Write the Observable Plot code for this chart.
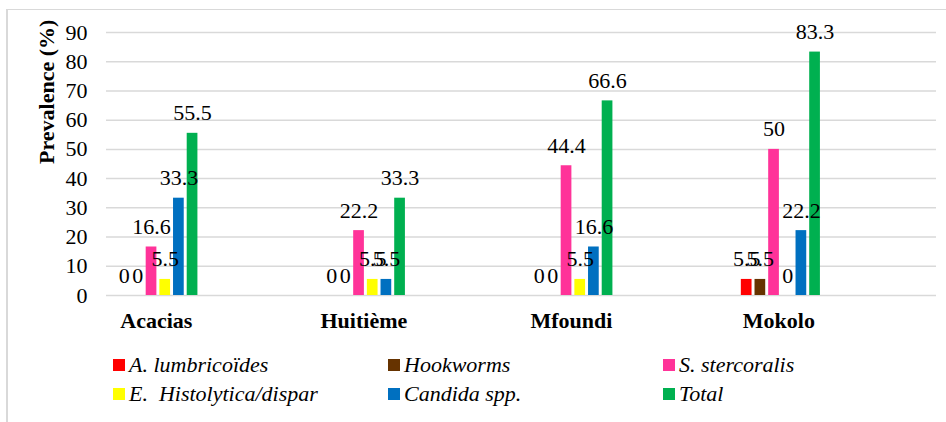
<!DOCTYPE html>
<html>
<head>
<meta charset="utf-8">
<script src="https://cdn.jsdelivr.net/npm/d3@7"></script>
<script src="https://cdn.jsdelivr.net/npm/@observablehq/plot@0.6"></script>
<style>
  body { margin: 0; background: #fff; }
  #wrap { position: relative; width: 946px; height: 422px; overflow: hidden; background: #fff; color: #000; }
  #wrap, #wrap *, #wrap svg text, #wrap svg tspan, #wrap div { font-family: 'Liberation Serif', 'Times New Roman', Tinos, serif !important; }
  #frame { position: absolute; left: 6px; top: 9px; width: 1200px; height: 1200px;
           border-left: 2px solid #d9d9d9; border-top: 1.5px solid #d9d9d9; pointer-events: none; z-index: 3; }
  #legend { position: relative; height: 82px; font-style: italic; font-size: 22px; }
  .item { position: absolute; white-space: pre; line-height: 22px; }
  .sw { position: absolute; width: 12px; height: 12px; }
</style>
</head>
<body>
<div id="wrap">
  <div id="chart"></div>
  <div id="legend"></div>
  <div id="frame"></div>
</div>
<script>
// ---- data ----
const categories = ["Acacias", "Huitième", "Mfoundi", "Mokolo"];
const seriesNames = ["A. lumbricoïdes", "Hookworms", "S. stercoralis", "E.  Histolytica/dispar", "Candida spp.", "Total"];
const seriesColors = ["#FF0000", "#663300", "#FF3399", "#FFFF00", "#0070C0", "#00B050"];
const aLumbricoides = [0, 0, 0, 5.5];
const hookworms = [0, 0, 0, 5.5];
const sStercoralis = [16.6, 22.2, 44.4, 50];
const eHistolytica = [5.5, 5.5, 5.5, 0];
const candida = [33.3, 5.5, 16.6, 22.2];
const total = [55.5, 33.3, 66.6, 83.3];
const yTicks = [0, 10, 20, 30, 40, 50, 60, 70, 80, 90];
const yLabel = "Prevalence (%)";

const seriesValues = [aLumbricoides, hookworms, sStercoralis, eHistolytica, candida, total];
const rows = [];
seriesNames.forEach((s, si) => categories.forEach((c, ci) =>
  rows.push({category: c, ci, series: s, si, value: seriesValues[si][ci]})));

// grouped layout in category units
const STEP = 0.0659, HALF = 0.0258;
const center = d => d.ci + (d.si - (seriesNames.length - 1) / 2) * STEP;

const FONT = "'Liberation Serif', 'Times New Roman', Tinos, serif";

const chart = Plot.plot({
  width: 946, height: 340,
  marginLeft: 106, marginRight: 10, marginTop: 32, marginBottom: 45,
  x: {type: "linear", domain: [-0.25, 3.75]},
  y: {domain: [0, 90]},
  color: {domain: seriesNames, range: seriesColors},
  style: {fontFamily: FONT, fontSize: "22px", color: "#000", background: "transparent", overflow: "visible"},
  marks: [
    Plot.gridY(yTicks, {stroke: "#d9d9d9", strokeOpacity: 1, strokeWidth: 1.5}),
    Plot.axisY(yTicks, {tickSize: 0, tickPadding: 19, label: null, fontSize: 22, fontFamily: FONT}),
    Plot.axisX(categories.map((c, i) => i), {tickSize: 0, tickPadding: 17, tickFormat: i => categories[i],
      fontWeight: "bold", fontSize: 22, fontFamily: FONT, label: null, dx: -2}),
    Plot.rectY(rows, {x1: d => center(d) - HALF, x2: d => center(d) + HALF, y1: 0, y2: "value", fill: "series"}),
    Plot.text(rows, {x: center, y: "value", text: d => String(d.value), lineAnchor: "bottom", dy: -13,
      fontSize: 22, fontFamily: FONT, fill: "#000"}),
    Plot.text([yLabel], {frameAnchor: "left", rotate: -90, dx: -53, lineAnchor: "bottom",
      fontWeight: "bold", fontSize: 22, fontFamily: FONT, fill: "#000"})
  ]
});
d3.select(chart).selectAll("g, text, tspan").each(function() {
  this.style.setProperty("font-family", FONT, "important");
  this.setAttribute("font-family", FONT);
});
document.getElementById("chart").appendChild(chart);

// ---- legend (3 columns x 2 rows) ----
const colX = [113, 388, 663];
const rowTop = [13.6, 42.6];
const legend = document.getElementById("legend");
seriesNames.forEach((name, k) => {
  const col = k % 3, row = Math.floor(k / 3);
  const sw = document.createElement("div");
  sw.className = "sw";
  sw.style.left = colX[col] + "px";
  sw.style.top = (rowTop[row] + 5.4) + "px";
  sw.style.background = seriesColors[k];
  legend.appendChild(sw);
  const t = document.createElement("div");
  t.className = "item";
  t.style.left = (colX[col] + 16) + "px";
  t.style.top = rowTop[row] + "px";
  t.style.setProperty("font-family", FONT, "important");
  t.style.fontStyle = "italic";
  t.style.fontSize = "22px";
  t.textContent = name;
  legend.appendChild(t);
});
</script>
</body>
</html>
